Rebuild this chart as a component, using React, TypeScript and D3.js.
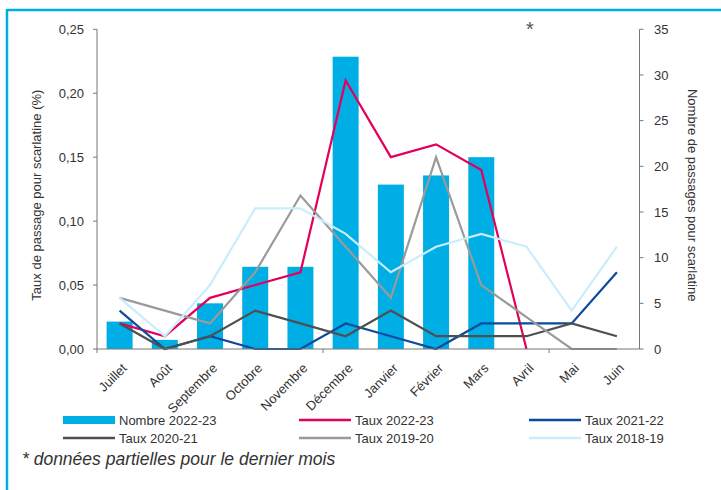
import React from "react";
import * as d3 from "d3";

// Months of the season (July → June)
const months = [
  "Juillet", "Août", "Septembre", "Octobre", "Novembre", "Décembre",
  "Janvier", "Février", "Mars", "Avril", "Mai", "Juin",
];

// Number of visits for scarlet fever, 2022-23 (right axis)
const nombre2223: (number | null)[] = [3, 1, 5, 9, 9, 32, 18, 19, 21, 0, null, null];

// Visit rates (%) per season (left axis)
const taux2223: (number | null)[] = [0.02, 0.01, 0.04, 0.05, 0.06, 0.21, 0.15, 0.16, 0.14, 0, null, null];
const taux2122: (number | null)[] = [0.03, 0, 0.01, 0, 0, 0.02, 0.01, 0, 0.02, 0.02, 0.02, 0.06];
const taux2021: (number | null)[] = [0.02, 0, 0.01, 0.03, 0.02, 0.01, 0.03, 0.01, 0.01, 0.01, 0.02, 0.01];
const taux1920: (number | null)[] = [0.04, 0.03, 0.02, 0.06, 0.12, 0.08, 0.04, 0.15, 0.05, 0.025, 0, 0];
const taux1819: (number | null)[] = [0.04, 0.01, 0.05, 0.11, 0.11, 0.09, 0.06, 0.08, 0.09, 0.08, 0.03, 0.08];

const leftTicks = [0, 0.05, 0.1, 0.15, 0.2, 0.25];
const rightTicks = [0, 5, 10, 15, 20, 25, 30, 35];

const W = 721;
const H = 490;
const FONT = "'Liberation Sans', Arial, sans-serif";
const TEXT = "#333333";
const AXIS = "#777777";

const lineSeries = [
  { name: "Taux 2022-23", values: taux2223, color: "#e3005b" },
  { name: "Taux 2021-22", values: taux2122, color: "#0d4a9a" },
  { name: "Taux 2020-21", values: taux2021, color: "#4f4f4f" },
  { name: "Taux 2019-20", values: taux1920, color: "#9a9a9a" },
  { name: "Taux 2018-19", values: taux1819, color: "#c9eefb" },
];
const BAR_COLOR = "#00aee6";

export default function App() {
  const left = 97;
  const right = 639.5;
  const top = 29.3;
  const bottom = 349;

  const x = d3.scaleBand<string>().domain(months).range([left, right]);
  const yL = d3.scaleLinear().domain([0, 0.25]).range([bottom, top]);
  const yR = d3.scaleLinear().domain([0, 35]).range([bottom, top]);
  const cx = (m: string) => (x(m) ?? 0) + x.bandwidth() / 2;
  const barW = x.bandwidth() * 0.575;
  const fmtL = (v: number) => d3.format(".2f")(v).replace(".", ",");

  const line = d3
    .line<number | null>()
    .defined((d) => d !== null)
    .x((_, i) => cx(months[i]))
    .y((d) => yL(d as number));

  // category boundaries that carry a tick mark (every 5 months)
  const xTickIdx = [0, 5, 10];

  const legendRows = [
    [
      { kind: "bar", name: "Nombre 2022-23", color: BAR_COLOR },
      { kind: "line", name: lineSeries[0].name, color: lineSeries[0].color },
      { kind: "line", name: lineSeries[1].name, color: lineSeries[1].color },
    ],
    [
      { kind: "line", name: lineSeries[2].name, color: lineSeries[2].color },
      { kind: "line", name: lineSeries[3].name, color: lineSeries[3].color },
      { kind: "line", name: lineSeries[4].name, color: lineSeries[4].color },
    ],
  ];
  const legendX = [63, 299, 529];
  const legendY = [420, 438];

  return (
    <div style={{ position: "fixed", left: 0, top: 0, width: W, height: H, background: "#fff" }}>
      <svg width={W} height={H} style={{ display: "block", fontFamily: FONT }}>
        <rect width={W} height={H} fill="#fff" />
        {/* frame */}
        <line x1={7} x2={W} y1={10} y2={10} stroke={BAR_COLOR} strokeWidth={2.5} />
        <line x1={7} x2={7} y1={9} y2={H} stroke={BAR_COLOR} strokeWidth={2.5} />

        {/* bars */}
        {nombre2223.map((v, i) =>
          v === null || v === 0 ? null : (
            <rect
              key={months[i]}
              x={cx(months[i]) - barW / 2}
              y={yR(v)}
              width={barW}
              height={bottom - yR(v)}
              fill={BAR_COLOR}
            />
          )
        )}

        {/* rate lines */}
        {lineSeries.map((s) => (
          <path key={s.name} d={line(s.values) ?? ""} fill="none" stroke={s.color} strokeWidth={2.2} strokeLinejoin="miter" />
        ))}

        {/* left axis */}
        <line x1={left} x2={left} y1={top} y2={bottom} stroke={AXIS} strokeWidth={1} />
        {leftTicks.map((t) => (
          <g key={t}>
            <line x1={left - 4} x2={left} y1={yL(t)} y2={yL(t)} stroke={AXIS} />
            <text x={84} y={yL(t)} dy="0.35em" textAnchor="end" fontSize={13} fill={TEXT}>
              {fmtL(t)}
            </text>
          </g>
        ))}
        <text
          transform={`translate(41, ${(top + bottom) / 2 + 6}) rotate(-90)`}
          textAnchor="middle"
          fontSize={13}
          fill={TEXT}
        >
          Taux de passage pour scarlatine (%)
        </text>

        {/* right axis */}
        <line x1={right} x2={right} y1={top} y2={bottom} stroke={AXIS} strokeWidth={1} />
        {rightTicks.map((t) => (
          <g key={t}>
            <line x1={right} x2={right + 4} y1={yR(t)} y2={yR(t)} stroke={AXIS} />
            <text x={654} y={yR(t)} dy="0.35em" textAnchor="start" fontSize={13} fill={TEXT}>
              {t}
            </text>
          </g>
        ))}
        <text
          transform={`translate(688, ${(top + bottom) / 2 + 6}) rotate(90)`}
          textAnchor="middle"
          fontSize={13}
          fill={TEXT}
        >
          Nombre de passages pour scarlatine
        </text>

        {/* x axis */}
        <line x1={left} x2={right} y1={bottom} y2={bottom} stroke={AXIS} strokeWidth={1} />
        {xTickIdx.map((i) => (
          <line key={i} x1={x(months[i])} x2={x(months[i])} y1={bottom} y2={bottom + 4} stroke={AXIS} />
        ))}
        {months.map((m) => (
          <text
            key={m}
            transform={`translate(${cx(m) + 8}, 369) rotate(-45)`}
            textAnchor="end"
            fontSize={13}
            fill={TEXT}
          >
            {m}
          </text>
        ))}

        {/* partial-data marker */}
        <text x={530} y={36} textAnchor="middle" fontSize={20} fill="#555">
          *
        </text>

        {/* legend */}
        {legendRows.map((row, r) =>
          row.map((item, c) => (
            <g key={item.name} transform={`translate(${legendX[c]}, ${legendY[r]})`}>
              {item.kind === "bar" ? (
                <rect x={0} y={-4} width={52} height={8} fill={item.color} />
              ) : (
                <line x1={0} x2={52} y1={0} y2={0} stroke={item.color} strokeWidth={2.5} />
              )}
              <text x={56} y={0} dy="0.35em" fontSize={13} fill={TEXT}>
                {item.name}
              </text>
            </g>
          ))
        )}

        {/* footnote */}
        <text x={22} y={465} fontSize={17.5} fontStyle="italic" fill={TEXT}>
          * données partielles pour le dernier mois
        </text>
      </svg>
    </div>
  );
}
